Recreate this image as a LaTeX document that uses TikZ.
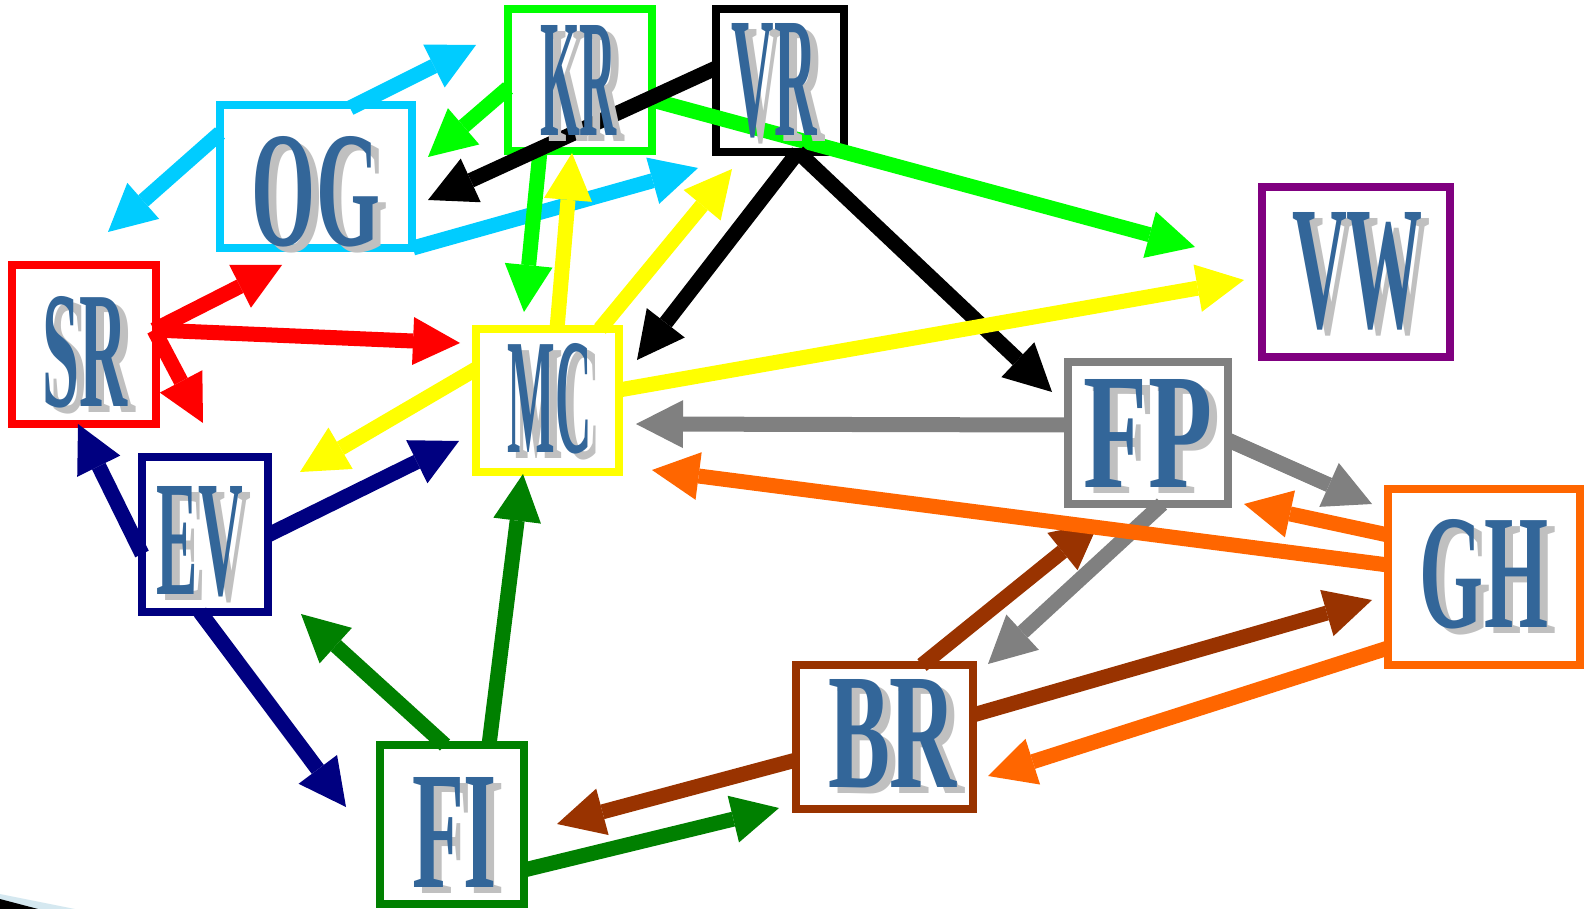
\documentclass[tikz,border=0pt]{standalone}
\usepackage{fontspec}
\setmainfont{Liberation Serif}
\usepackage{graphicx}
\usetikzlibrary{arrows.meta}
\definecolor{cCyan}{HTML}{00CCFF}
\definecolor{cLime}{HTML}{00FF00}
\definecolor{cYellow}{HTML}{FFFF00}
\definecolor{cRed}{HTML}{FF0000}
\definecolor{cNavy}{HTML}{000080}
\definecolor{cDGreen}{HTML}{008000}
\definecolor{cBrown}{HTML}{993300}
\definecolor{cGray}{HTML}{808080}
\definecolor{cOrange}{HTML}{FF6600}
\definecolor{cPurple}{HTML}{800080}
\definecolor{txtblue}{HTML}{336699}
\definecolor{shadowgray}{HTML}{C0C0C0}
\definecolor{decoblue}{HTML}{D5E8F0}
\tikzset{
  nbox/.style={draw=#1, line width=8pt, fill=white, inner sep=0pt, outer sep=0pt},
  arr/.style={draw=#1, line width=15pt, -{Triangle[length=47pt,width=48pt,line width=0pt]}},
  lbltxt/.style={text=txtblue, inner sep=0pt, font=\bfseries},
  lblshadow/.style={text=shadowgray, inner sep=0pt, font=\bfseries},
}
\newcommand{\boxlabel}[6]{%
  \node[lblshadow] (#1s) at (#2+8,#3+6) {\resizebox{#4pt}{#5pt}{#6}};
  \node[lbltxt] (#1) at (#2,#3) {\resizebox{#4pt}{#5pt}{#6}};
}
\begin{document}
\begin{tikzpicture}[x=1pt,y=-1pt]
\useasboundingbox[fill=white] (0,0) rectangle (1585,909);

% boxes
\node[nbox=cLime,   minimum width=144pt, minimum height=142pt] (KR) at (580,80) {};
\node[nbox=black,   minimum width=128pt, minimum height=143pt] (VR) at (780,80.5) {};
\node[nbox=cCyan,   minimum width=192pt, minimum height=143pt] (OG) at (316,176.5) {};
\node[nbox=cRed,    minimum width=144pt, minimum height=159pt] (SR) at (84,344.5) {};
\node[nbox=cYellow, minimum width=143pt, minimum height=143pt] (MC) at (547.5,400.5) {};
\node[nbox=cGray,   minimum width=160pt, minimum height=142pt] (FP) at (1148,433) {};
\node[nbox=cPurple, minimum width=188pt, minimum height=170pt] (VW) at (1356,272) {};
\node[nbox=cNavy,   minimum width=126pt, minimum height=155pt] (EV) at (205,534.5) {};
\node[nbox=cOrange, minimum width=192pt, minimum height=176pt] (GH) at (1484,577) {};
\node[nbox=cBrown,  minimum width=177pt, minimum height=144pt] (BR) at (884.5,737) {};
\node[nbox=cDGreen, minimum width=144pt, minimum height=159pt] (FI) at (452,824.5) {};

% connector end points
\coordinate (og1) at (350,108);  \coordinate (og1t) at (476,45);
\coordinate (og2) at (220,133);  \coordinate (og2t) at (108,232);
\coordinate (og3) at (413,248);  \coordinate (og3t) at (698,168);
\coordinate (kr1) at (508,88);   \coordinate (kr1t) at (428,157);
\coordinate (kr2) at (540,151);  \coordinate (kr2t) at (524,312);
\coordinate (kr3) at (652,100);  \coordinate (kr3t) at (1195,247);
\coordinate (vr1) at (716,68);   \coordinate (vr1t) at (428,200);
\coordinate (vr2) at (798,152);  \coordinate (vr2t) at (637,360);
\coordinate (vr3t) at (1052,392);
\coordinate (mc1) at (557,329);  \coordinate (mc1t) at (572,153);
\coordinate (mc2) at (600,329);  \coordinate (mc2t) at (732,169);
\coordinate (mc3) at (619,390);  \coordinate (mc3t) at (1244,280);
\coordinate (mc4) at (476,369);  \coordinate (mc4t) at (300,472);
\coordinate (sr1) at (154,330);
\coordinate (sr1t) at (282,265); \coordinate (sr2t) at (460,343); \coordinate (sr3t) at (203,423);
\coordinate (ev1) at (142,554);  \coordinate (ev1t) at (78,424);
\coordinate (ev2) at (268,535);  \coordinate (ev2t) at (459,441);
\coordinate (ev3) at (200,612);  \coordinate (ev3t) at (346,807);
\coordinate (fi1) at (445,745);  \coordinate (fi1t) at (301,614);
\coordinate (fi2) at (489,745);  \coordinate (fi2t) at (523,474);
\coordinate (fi3) at (524,870);  \coordinate (fi3t) at (779,808);
\coordinate (br1) at (796,760);  \coordinate (br1t) at (557,824);
\coordinate (br2) at (922,665);  \coordinate (br2t) at (1099,522);
\coordinate (br3) at (973,715);  \coordinate (br3t) at (1372,600);
\coordinate (fp1) at (1068,425); \coordinate (fp1t) at (636,424);
\coordinate (fp2) at (1228,440); \coordinate (fp2t) at (1372,504);
\coordinate (fp3) at (1162,504); \coordinate (fp3t) at (988,664);
\coordinate (gh1) at (1388,535); \coordinate (gh1t) at (1244,504);
\coordinate (gh2) at (1388,565); \coordinate (gh2t) at (652,470);
\coordinate (gh3) at (1388,648); \coordinate (gh3t) at (988,776);

% connectors
\draw[arr=cCyan] (og1) -- (og1t);
\draw[arr=cCyan] (og2) -- (og2t);
\draw[arr=cCyan] (og3) -- (og3t);
\draw[arr=cLime] (kr1) -- (kr1t);
\draw[arr=cLime] (kr2) -- (kr2t);
\draw[arr=cLime] (kr3) -- (kr3t);
\draw[arr=black] (vr1) -- (vr1t);
\draw[arr=black] (vr2) -- (vr2t);
\draw[arr=black] (vr2) -- (vr3t);
\draw[arr=cYellow] (mc1) -- (mc1t);
\draw[arr=cYellow] (mc2) -- (mc2t);
\draw[arr=cYellow] (mc3) -- (mc3t);
\draw[arr=cYellow] (mc4) -- (mc4t);
\draw[arr=cRed] (sr1) -- (sr1t);
\draw[arr=cRed] (sr1) -- (sr2t);
\draw[arr=cRed] (sr1) -- (sr3t);
\draw[arr=cNavy] (ev1) -- (ev1t);
\draw[arr=cNavy] (ev2) -- (ev2t);
\draw[arr=cNavy] (ev3) -- (ev3t);
\draw[arr=cDGreen] (fi1) -- (fi1t);
\draw[arr=cDGreen] (fi2) -- (fi2t);
\draw[arr=cDGreen] (fi3) -- (fi3t);
\draw[arr=cBrown] (br1) -- (br1t);
\draw[arr=cBrown] (br2) -- (br2t);
\draw[arr=cBrown] (br3) -- (br3t);
\draw[arr=cGray] (fp1) -- (fp1t);
\draw[arr=cGray] (fp2) -- (fp2t);
\draw[arr=cGray] (fp3) -- (fp3t);
\draw[arr=cOrange] (gh1) -- (gh1t);
\draw[arr=cOrange] (gh2) -- (gh2t);
\draw[arr=cOrange] (gh3) -- (gh3t);

% labels
\boxlabel{KRt}{578.5}{80}{77}{110}{KR}
\boxlabel{VRt}{774.5}{80.5}{85}{112}{VR}
\boxlabel{OGt}{316}{191.5}{128}{109}{OG}
\boxlabel{SRt}{85.5}{352}{85}{110}{SR}
\boxlabel{MCt}{550}{398.5}{84}{109}{MC}
\boxlabel{VWt}{1357.5}{271.5}{131}{115}{VW}
\boxlabel{FPt}{1148}{433}{128}{108}{FP}
\boxlabel{EVt}{200}{542}{86}{108}{EV}
\boxlabel{GHt}{1484}{574}{128}{108}{GH}
\boxlabel{BRt}{892.5}{734}{129}{108}{BR}
\boxlabel{FIt}{454.5}{832}{85}{110}{FI}

% corner decoration
\fill[decoblue] (0,894) -- (75,909) -- (0,909) -- cycle;
\fill[black] (0,899) -- (38,909) -- (0,909) -- cycle;
\end{tikzpicture}
\end{document}
